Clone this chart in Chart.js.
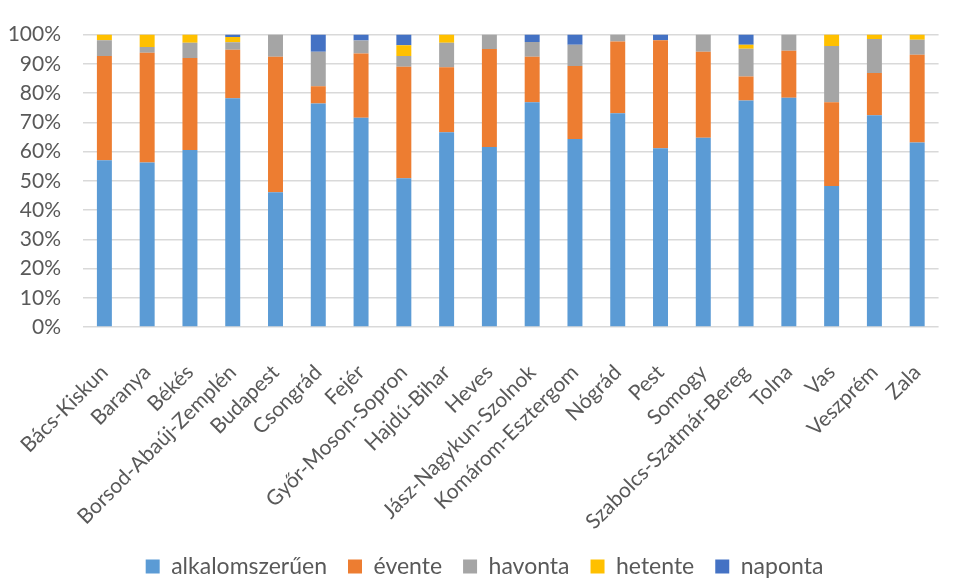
<!DOCTYPE html>
<html>
<head>
<meta charset="utf-8">
<script src="https://cdn.jsdelivr.net/npm/chart.js@4"></script>
<style>
  html, body { margin: 0; padding: 0; background: #fff; }
  #wrap { width: 960px; height: 579px; }
</style>
</head>
<body>
<div id="wrap"><canvas id="chart"></canvas></div>
<script>
// megyék
const categories = ['Bács-Kiskun', 'Baranya', 'Békés', 'Borsod-Abaúj-Zemplén', 'Budapest', 'Csongrád', 'Fejér',
    'Győr-Moson-Sopron', 'Hajdú-Bihar', 'Heves', 'Jász-Nagykun-Szolnok', 'Komárom-Esztergom', 'Nógrád', 'Pest',
    'Somogy', 'Szabolcs-Szatmár-Bereg', 'Tolna', 'Vas', 'Veszprém', 'Zala'];

// share of answers, percent
const alkalomszeruen = [57.0, 56.3, 60.5, 78.2, 46.1, 76.4, 71.6, 50.9, 66.6, 61.6, 76.9, 64.3, 73.1, 61.1, 64.7, 77.5, 78.4, 48.2, 72.4, 63.1];
const evente = [35.7, 37.5, 31.5, 16.6, 46.3, 5.9, 21.9, 38.1, 22.2, 33.5, 15.5, 25.0, 24.5, 37.0, 29.4, 8.2, 16.1, 28.7, 14.5, 30.0];
const havonta = [5.4, 2.0, 5.2, 2.6, 7.6, 11.8, 4.5, 3.7, 8.4, 4.9, 5.1, 7.2, 2.4, 0, 5.9, 9.5, 5.5, 19.2, 11.6, 5.1];
const hetente = [1.9, 4.2, 2.8, 1.8, 0, 0, 0, 3.7, 2.8, 0, 0, 0, 0, 0, 0, 1.3, 0, 3.9, 1.5, 1.8];
const naponta = [0, 0, 0, 0.8, 0, 5.9, 2.0, 3.6, 0, 0, 2.5, 3.5, 0, 1.9, 0, 3.5, 0, 0, 0, 0];

const yTicks = [0, 10, 20, 30, 40, 50, 60, 70, 80, 90, 100];

const textColor = '#595959';
const fontFamily = 'Lato, "Open Sans", sans-serif';

function series(label, data, color) {
    return {
        label: label,
        data: data,
        backgroundColor: color,
        borderWidth: 0,
        barPercentage: 0.35,
        categoryPercentage: 1.0
    };
}

new Chart(document.getElementById('chart'), {
    type: 'bar',
    data: {
        labels: categories,
        datasets: [
            series('alkalomszerűen', alkalomszeruen, '#5B9BD5'),
            series('évente', evente, '#ED7D31'),
            series('havonta', havonta, '#A5A5A5'),
            series('hetente', hetente, '#FFC000'),
            series('naponta', naponta, '#4472C4')
        ]
    },
    options: {
        responsive: true,
        maintainAspectRatio: false,
        animation: false,
        layout: { padding: { top: 21, left: 9, right: 0, bottom: 0 } },
        scales: {
            x: {
                stacked: true,
                grid: { display: false },
                border: { display: false },
                afterFit: function (axis) {
                    // rotated first label may hang into the left margin, like in Excel
                    axis.paddingLeft = 0;
                    axis.height = 207;
                },
                ticks: {
                    color: textColor,
                    font: { family: fontFamily, size: 21 },
                    maxRotation: 45,
                    minRotation: 45,
                    autoSkip: false,
                    padding: 25
                }
            },
            y: {
                stacked: true,
                min: 0,
                max: 100,
                afterBuildTicks: function (axis) {
                    axis.ticks = yTicks.map(function (v) { return { value: v }; });
                },
                afterFit: function (axis) {
                    axis.width = 74;
                },
                grid: { color: '#d9d9d9', lineWidth: 1.5, drawTicks: false },
                border: { display: false },
                ticks: {
                    color: textColor,
                    font: { family: fontFamily, size: 21 },
                    padding: 22,
                    callback: function (v) { return v + '%'; }
                }
            }
        },
        plugins: {
            legend: {
                position: 'bottom',
                maxHeight: 45,
                labels: {
                    color: textColor,
                    font: { family: fontFamily, size: 23 },
                    boxWidth: 14,
                    boxHeight: 14,
                    padding: 21
                }
            },
            tooltip: { enabled: false }
        }
    }
});
</script>
</body>
</html>
